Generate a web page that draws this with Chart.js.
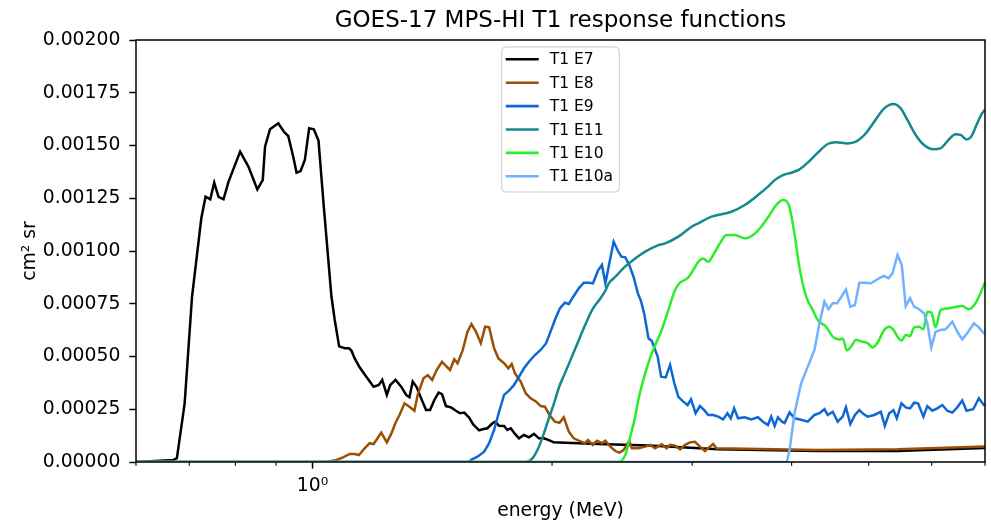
<!DOCTYPE html>
<html>
<head>
<meta charset="utf-8">
<script src="https://cdn.jsdelivr.net/npm/chart.js@4.4.1/dist/chart.umd.min.js"></script>
<style>
  html, body { margin: 0; padding: 0; background: #ffffff; }
  #wrap { width: 991px; height: 524px; }
</style>
</head>
<body>
<div id="wrap"><canvas id="chart" width="991" height="524"></canvas></div>
<script>
// Response functions, [energy (MeV), cm^2 sr] pairs per channel.
const e7Points = [
  [0.6, 0], [0.669, 0.00001], [0.6754, 0.000018], [0.6907, 0.000278], [0.7056, 0.000783],
  [0.7248, 0.001155], [0.7338, 0.001257], [0.7438, 0.001245], [0.7524, 0.001324], [0.7618, 0.001257],
  [0.7729, 0.001245], [0.7841, 0.001328], [0.811, 0.001471], [0.8306, 0.0014], [0.8524, 0.001292],
  [0.8658, 0.001336], [0.8716, 0.001494], [0.8842, 0.001577], [0.9056, 0.001605], [0.9206, 0.001565],
  [0.9321, 0.001545], [0.9457, 0.001447], [0.9549, 0.001371], [0.966, 0.001379], [0.978, 0.001431],
  [0.9902, 0.001582], [1.0038, 0.001577], [1.0174, 0.001523], [1.034, 0.001194], [1.0563, 0.000783],
  [1.0664, 0.000673], [1.08, 0.000548], [1.0976, 0.000539], [1.1113, 0.000539], [1.119, 0.000528],
  [1.1297, 0.000491], [1.146, 0.000449], [1.1684, 0.000404], [1.1932, 0.000357], [1.2116, 0.000365],
  [1.2235, 0.000389], [1.2399, 0.000318], [1.2521, 0.000365], [1.2714, 0.000389], [1.2925, 0.000357],
  [1.3112, 0.000318], [1.3237, 0.000307], [1.3364, 0.000381], [1.3519, 0.000354], [1.3731, 0.000291],
  [1.389, 0.000246], [1.4051, 0.000246], [1.4226, 0.000294], [1.4403, 0.000329], [1.4545, 0.000322],
  [1.4713, 0.000265], [1.4927, 0.000259], [1.5144, 0.000243], [1.532, 0.000231], [1.5511, 0.000234],
  [1.5736, 0.00021], [1.5918, 0.000178], [1.6197, 0.00015], [1.635, 0.000155], [1.6589, 0.00016],
  [1.6829, 0.000183], [1.696, 0.00019], [1.7157, 0.000172], [1.7406, 0.000171], [1.7572, 0.000152],
  [1.7745, 0.00016], [1.7966, 0.000133], [1.8175, 0.000112], [1.8438, 0.000128], [1.8706, 0.000117],
  [1.8978, 0.000133], [1.9254, 0.000112], [1.9533, 0.000112], [1.9815, 0.000104], [2.0103, 0.000093],
  [2.0395, 0.000092], [2.288, 0.000085], [2.644, 0.000078], [3.234, 0.00006], [4.314, 0.000052],
  [5.434, 0.000052], [7.0, 0.000066]
];

const e8Points = [
  [0.6, 0], [1.0412, 0], [1.0716, 0.0000095], [1.0922, 0.000022], [1.1136, 0.000038],
  [1.1297, 0.000038], [1.1437, 0.000033], [1.1627, 0.000065], [1.1796, 0.000089], [1.1932, 0.000085],
  [1.2046, 0.000108], [1.22, 0.000139], [1.2399, 0.000093], [1.2557, 0.000133], [1.2714, 0.000186],
  [1.2862, 0.000223], [1.3049, 0.000278], [1.3237, 0.000262], [1.3428, 0.000243], [1.3556, 0.000318],
  [1.3787, 0.000397], [1.3959, 0.000412], [1.4137, 0.000389], [1.4321, 0.000436], [1.4545, 0.000475],
  [1.4713, 0.000455], [1.4885, 0.000436], [1.507, 0.000487], [1.5214, 0.000468], [1.5435, 0.000528],
  [1.5659, 0.000618], [1.584, 0.000654], [1.6043, 0.000618], [1.6275, 0.000563], [1.6478, 0.000641],
  [1.667, 0.000638], [1.6912, 0.000539], [1.7122, 0.000491], [1.7406, 0.000468], [1.7623, 0.000444],
  [1.7796, 0.000464], [1.7966, 0.00042], [1.8264, 0.000381], [1.8529, 0.000326], [1.8797, 0.000302],
  [1.9103, 0.000286], [1.9346, 0.000265], [1.9588, 0.000262], [1.9855, 0.000223], [2.0161, 0.000191],
  [2.0437, 0.000186], [2.0692, 0.000212], [2.0992, 0.000144], [2.1297, 0.000112], [2.1606, 0.000101],
  [2.1983, 0.000089], [2.2193, 0.000104], [2.2496, 0.000081], [2.2776, 0.000101], [2.3106, 0.000089],
  [2.3334, 0.000101], [2.3673, 0.000073], [2.4017, 0.000052], [2.4295, 0.000044], [2.4598, 0.000057],
  [2.4833, 0.000081], [2.5005, 0.0001], [2.5193, 0.000065], [2.5684, 0.000065], [2.6185, 0.000073],
  [2.6565, 0.000081], [2.695, 0.000065], [2.7468, 0.000084], [2.7866, 0.000065], [2.814, 0.000081],
  [2.8548, 0.000077], [2.8963, 0.00006], [2.9384, 0.000081], [2.981, 0.000093], [3.0243, 0.000096],
  [3.0682, 0.000073], [3.1127, 0.000052], [3.1579, 0.000073], [3.1881, 0.000085], [3.2185, 0.000065],
  [4.314, 0.000057], [5.434, 0.00006], [7.0, 0.000074]
];

const e9Points = [
  [0.6, 0], [1.5736, 0], [1.5812, 0.0000095], [1.6117, 0.000025], [1.6431, 0.000049],
  [1.667, 0.000089], [1.6912, 0.000152], [1.7157, 0.000238], [1.7406, 0.000318], [1.7659, 0.000338],
  [1.7915, 0.000365], [1.8175, 0.000404], [1.8438, 0.000444], [1.8706, 0.000475], [1.9033, 0.000507],
  [1.9346, 0.000531], [1.9662, 0.000563], [1.9912, 0.000618], [2.0202, 0.000681], [2.0455, 0.000728],
  [2.0752, 0.000755], [2.0992, 0.000749], [2.1297, 0.000787], [2.1606, 0.000823], [2.1919, 0.00085],
  [2.2237, 0.00085], [2.2516, 0.000847], [2.2842, 0.000907], [2.3106, 0.000934], [2.3334, 0.000847],
  [2.3605, 0.000942], [2.3899, 0.001044], [2.4197, 0.001001], [2.4436, 0.000973], [2.4719, 0.00097],
  [2.5005, 0.000934], [2.5316, 0.000878], [2.5632, 0.0008], [2.5884, 0.00076], [2.6132, 0.000697],
  [2.6435, 0.000586], [2.6688, 0.000574], [2.7152, 0.000499], [2.7419, 0.000404], [2.7786, 0.000401],
  [2.814, 0.00046], [2.849, 0.000373], [2.8821, 0.000309], [2.924, 0.000286], [2.9604, 0.00027],
  [2.9896, 0.000297], [3.0296, 0.000231], [3.0682, 0.000265], [3.1064, 0.000246], [3.1424, 0.000223],
  [3.1881, 0.000223], [3.234, 0.000215], [3.281, 0.000202], [3.3219, 0.000231], [3.3546, 0.000207],
  [3.3866, 0.000254], [3.4259, 0.000207], [3.4926, 0.000212], [3.5597, 0.000202], [3.6291, 0.000212],
  [3.6818, 0.000191], [3.7353, 0.000175], [3.771, 0.000215], [3.8081, 0.000171], [3.8445, 0.000212],
  [3.8891, 0.000191], [3.9195, 0.000185], [3.9765, 0.000235], [4.0342, 0.000207], [4.1117, 0.0002],
  [4.1919, 0.000191], [4.2737, 0.000223], [4.3358, 0.000231], [4.3987, 0.00025], [4.4408, 0.000223],
  [4.5052, 0.000238], [4.5706, 0.000191], [4.6369, 0.000215], [4.6813, 0.000259], [4.741, 0.00018],
  [4.8044, 0.000223], [4.8657, 0.000246], [4.9263, 0.000227], [4.9834, 0.000215], [5.0806, 0.000223],
  [5.1782, 0.000238], [5.2383, 0.000171], [5.3052, 0.000231], [5.3713, 0.000246], [5.4227, 0.000207],
  [5.4967, 0.000278], [5.5651, 0.000259], [5.6361, 0.000254], [5.7015, 0.000281], [5.7676, 0.000278],
  [5.8565, 0.000215], [5.9244, 0.000265], [6.0105, 0.000243], [6.0978, 0.000254], [6.1864, 0.00027],
  [6.2763, 0.000243], [6.3676, 0.000234], [6.4601, 0.000259], [6.5539, 0.000291], [6.6358, 0.000243],
  [6.765, 0.00025], [6.877, 0.000302], [6.9768, 0.00027], [7.0, 0.00027]
];

const e11Points = [
  [0.6, 0], [1.8529, 0], [1.8882, 0.000016], [1.9215, 0.000065], [1.9533, 0.000136],
  [1.9815, 0.000207], [2.0103, 0.000275], [2.0395, 0.000352], [2.0752, 0.00042], [2.1402, 0.00054],
  [2.2015, 0.00065], [2.2451, 0.00072], [2.2999, 0.000775], [2.3334, 0.000812], [2.3558, 0.000845],
  [2.4017, 0.000878], [2.4719, 0.000927], [2.544, 0.000965], [2.6185, 0.000997], [2.7207, 0.001028],
  [2.7737, 0.001036], [2.8821, 0.001068], [2.9948, 0.001115], [3.0531, 0.001131], [3.1722, 0.001163],
  [3.3604, 0.001186], [3.4926, 0.001218], [3.6291, 0.001265], [3.7353, 0.001305], [3.8081, 0.001336],
  [3.9003, 0.00136], [3.9949, 0.001371], [4.0928, 0.001387], [4.1919, 0.001419], [4.3144, 0.001466],
  [4.4408, 0.001507], [4.5483, 0.001515], [4.7042, 0.00151], [4.8182, 0.001518], [4.959, 0.001558],
  [5.0806, 0.001613], [5.2293, 0.001676], [5.3713, 0.001697], [5.4856, 0.001676], [5.5924, 0.001621],
  [5.7282, 0.00155], [5.8683, 0.001502], [6.0395, 0.001482], [6.1563, 0.001487], [6.3071, 0.001529],
  [6.4285, 0.001553], [6.5219, 0.00155], [6.6358, 0.001529], [6.7262, 0.001542], [6.8436, 0.001605],
  [6.9428, 0.001653], [7.0, 0.00167]
];

const e10Points = [
  [0.6, 0], [2.4248, 0], [2.4719, 0.000033], [2.5077, 0.00012], [2.544, 0.000215],
  [2.5684, 0.000298], [2.6185, 0.00042], [2.6565, 0.000495], [2.6819, 0.000535], [2.7468, 0.000626],
  [2.8003, 0.00072], [2.8548, 0.000815], [2.8963, 0.00085], [2.9604, 0.000871], [3.0095, 0.00091],
  [3.0531, 0.000949], [3.0974, 0.000965], [3.1424, 0.000949], [3.1881, 0.000981], [3.2499, 0.001036],
  [3.3124, 0.001076], [3.3935, 0.001076], [3.4926, 0.00106], [3.5771, 0.001076], [3.6638, 0.001115],
  [3.7536, 0.001171], [3.8257, 0.001218], [3.9003, 0.001242], [3.965, 0.00122], [4.0342, 0.00108],
  [4.0928, 0.00092], [4.1715, 0.000785], [4.2529, 0.00072], [4.3144, 0.000673], [4.4191, 0.000641],
  [4.5052, 0.000594], [4.5929, 0.000581], [4.6369, 0.000585], [4.6947, 0.000528], [4.7492, 0.000546],
  [4.8182, 0.000578], [4.9122, 0.00057], [4.9834, 0.000563], [5.0557, 0.000543], [5.1292, 0.000565],
  [5.2293, 0.000626], [5.3052, 0.000641], [5.3713, 0.000626], [5.4344, 0.000594], [5.4967, 0.000575],
  [5.5651, 0.000602], [5.6361, 0.000597], [5.7015, 0.000638], [5.7842, 0.000641], [5.8565, 0.000629],
  [5.9244, 0.000712], [5.9929, 0.000708], [6.0674, 0.000638], [6.1563, 0.00072], [6.2763, 0.000728],
  [6.3989, 0.000733], [6.5539, 0.000739], [6.6817, 0.000724], [6.8103, 0.000752], [6.9091, 0.0008],
  [6.9768, 0.000839], [7.0, 0.00085]
];

const e10aPoints = [
  [0.6, 0], [3.9456, 0], [3.9765, 0.000057], [4.0342, 0.000231], [4.1117, 0.000373],
  [4.1919, 0.000452], [4.2737, 0.000531], [4.3358, 0.000657], [4.3987, 0.00076], [4.4498, 0.000724],
  [4.5052, 0.000752], [4.5613, 0.000752], [4.6142, 0.00078], [4.6813, 0.000818], [4.741, 0.000736],
  [4.8044, 0.000744], [4.8657, 0.00085], [4.9448, 0.00085], [5.0311, 0.000847], [5.1292, 0.000866],
  [5.2187, 0.000882], [5.2945, 0.000871], [5.3559, 0.000894], [5.4344, 0.000981], [5.5014, 0.000934],
  [5.5651, 0.000739], [5.6361, 0.000776], [5.7015, 0.000736], [5.7842, 0.000724], [5.8683, 0.000705],
  [5.9244, 0.000657], [5.9929, 0.000543], [6.0674, 0.000618], [6.1563, 0.000626], [6.2456, 0.000629],
  [6.3676, 0.000665], [6.4601, 0.000618], [6.5539, 0.000581], [6.6489, 0.00061], [6.7787, 0.000657],
  [6.877, 0.000638], [6.9768, 0.00061], [7.0, 0.00061]
];

const seriesLabels = ['T1 E7', 'T1 E8', 'T1 E9', 'T1 E11', 'T1 E10', 'T1 E10a'];
const seriesPoints = [e7Points, e8Points, e9Points, e11Points, e10Points, e10aPoints];
const seriesColors = ['#000000', '#9a4f05', '#0d67d4', '#15898b', '#2bee2b', '#6fb2ff'];
const seriesSmooth = [false, false, false, true, true, false];

const xTickValues = [0.6, 0.7, 0.8, 0.9, 1, 2, 3, 4, 5, 6, 7];
const yTickValues = [0, 0.00025, 0.0005, 0.00075, 0.001, 0.00125, 0.0015, 0.00175, 0.002];

const FONT = 'DejaVu Sans';

// Frame, x tick marks, title and legend box drawn on top of the chart area.
const decorPlugin = {
  id: 'decor',
  afterDatasetsDraw(chart) {
    const { ctx, chartArea: a, scales } = chart;
    ctx.save();
    // axes box
    ctx.strokeStyle = '#000';
    ctx.lineWidth = 1.5;
    ctx.strokeRect(a.left, a.top, a.right - a.left, a.bottom - a.top);
    // x tick marks (major at 10^0, minor elsewhere)
    xTickValues.forEach(v => {
      const px = scales.x.getPixelForValue(v);
      const major = v === 1;
      ctx.lineWidth = major ? 1.5 : 1.1;
      ctx.beginPath();
      ctx.moveTo(px, a.bottom);
      ctx.lineTo(px, a.bottom + (major ? 6.6 : 3.8));
      ctx.stroke();
    });
    // title
    const cx = (a.left + a.right) / 2;
    ctx.fillStyle = '#000';
    ctx.font = '23px "' + FONT + '"';
    ctx.textAlign = 'center';
    ctx.textBaseline = 'alphabetic';
    ctx.fillText('GOES-17 MPS-HI T1 response functions', cx, 27);
    // legend
    const w = 117.5, h = 145, bx = cx - w / 2, by = a.top + 7, r = 4;
    ctx.beginPath();
    ctx.moveTo(bx + r, by);
    ctx.lineTo(bx + w - r, by);
    ctx.arcTo(bx + w, by, bx + w, by + r, r);
    ctx.lineTo(bx + w, by + h - r);
    ctx.arcTo(bx + w, by + h, bx + w - r, by + h, r);
    ctx.lineTo(bx + r, by + h);
    ctx.arcTo(bx, by + h, bx, by + h - r, r);
    ctx.lineTo(bx, by + r);
    ctx.arcTo(bx, by, bx + r, by, r);
    ctx.closePath();
    ctx.fillStyle = 'rgba(255,255,255,0.8)';
    ctx.fill();
    ctx.strokeStyle = '#cccccc';
    ctx.lineWidth = 1;
    ctx.stroke();
    ctx.font = '15.5px "' + FONT + '"';
    ctx.textAlign = 'left';
    ctx.textBaseline = 'middle';
    seriesLabels.forEach((lab, i) => {
      const ly = by + 12.3 + i * 23.4;
      ctx.strokeStyle = seriesColors[i];
      ctx.lineWidth = 2.6;
      ctx.beginPath();
      ctx.moveTo(bx + 4, ly);
      ctx.lineTo(bx + 37, ly);
      ctx.stroke();
      ctx.fillStyle = '#000';
      ctx.fillText(lab, bx + 48, ly + 1);
    });
    ctx.restore();
  }
};

const datasets = seriesLabels.map((lab, i) => ({
  label: lab,
  data: seriesPoints[i].map(p => ({ x: p[0], y: p[1] })),
  borderColor: seriesColors[i],
  backgroundColor: seriesColors[i],
  borderWidth: 2.5,
  pointRadius: 0,
  fill: false,
  tension: seriesSmooth[i] ? 0.4 : 0,
  cubicInterpolationMode: seriesSmooth[i] ? 'monotone' : 'default',
  order: seriesLabels.length - 1 - i
}));

new Chart(document.getElementById('chart'), {
  type: 'line',
  data: { datasets },
  options: {
    responsive: false,
    animation: false,
    layout: { padding: { top: 40, right: 3, left: 0, bottom: 0 } },
    plugins: {
      legend: { display: false },
      tooltip: { enabled: false },
      title: { display: false }
    },
    scales: {
      x: {
        type: 'logarithmic',
        min: 0.6,
        max: 7,
        afterFit(s) { s.height = 62; },
        afterBuildTicks(s) { s.ticks = xTickValues.map(v => ({ value: v, major: v === 1 })); },
        border: { display: false },
        grid: { drawOnChartArea: false, drawTicks: true, tickLength: 7, tickColor: 'rgba(0,0,0,0)' },
        ticks: {
          autoSkip: false,
          maxRotation: 0,
          padding: 6,
          color: '#000',
          font: { family: FONT, size: 18.8 },
          callback: v => (v === 1 ? '10\u2070' : '')
        },
        title: {
          display: true,
          text: 'energy (MeV)',
          color: '#000',
          font: { family: FONT, size: 18.8 },
          padding: { top: 0, bottom: 1.7 }
        }
      },
      y: {
        min: 0,
        max: 0.002,
        afterFit(s) { s.width = 136; },
        afterBuildTicks(s) { s.ticks = yTickValues.map(v => ({ value: v })); },
        border: { display: false },
        grid: { drawOnChartArea: false, drawTicks: true, tickLength: 6.6, tickColor: '#000', tickWidth: 1.5 },
        ticks: {
          padding: 9,
          color: '#000',
          font: { family: FONT, size: 18.8 },
          callback: v => Number(v).toFixed(5)
        },
        title: {
          display: true,
          text: 'cm\u00b2 sr',
          color: '#000',
          font: { family: FONT, size: 18.8 },
          padding: { top: 18.5, bottom: 0 }
        }
      }
    }
  },
  plugins: [decorPlugin]
});
</script>
</body>
</html>
